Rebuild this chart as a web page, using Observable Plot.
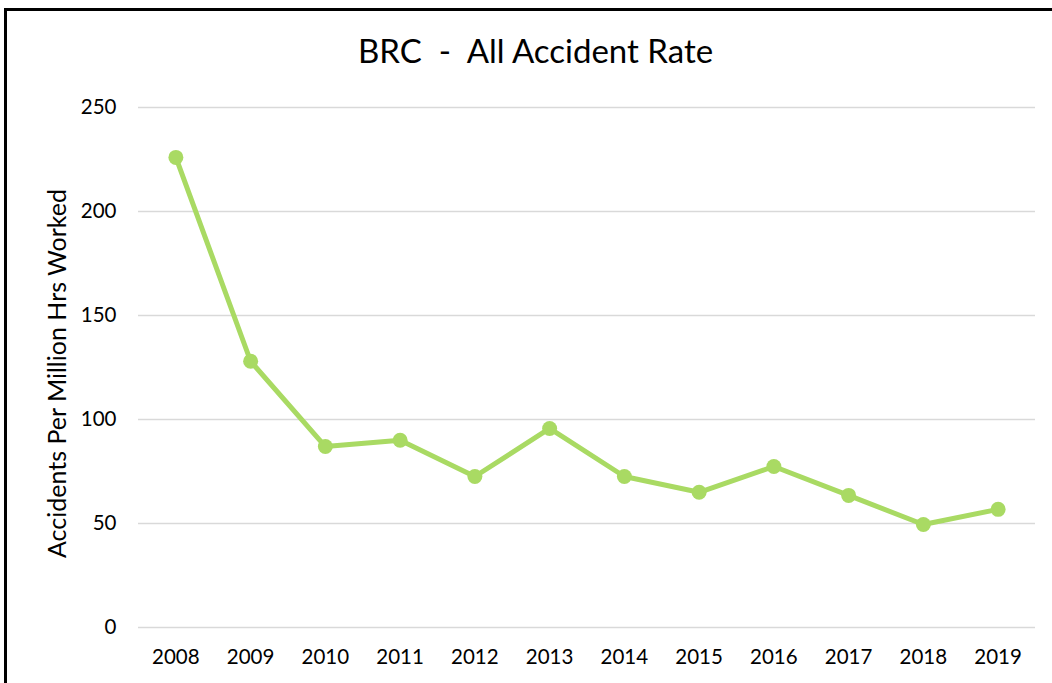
<!DOCTYPE html>
<html>
<head>
<meta charset="utf-8">
<script src="https://cdn.jsdelivr.net/npm/d3@7"></script>
<script src="https://cdn.jsdelivr.net/npm/@observablehq/plot@0.6"></script>
<style>
  html, body { margin: 0; padding: 0; background: #fff; overflow: hidden; }
  #wrap { position: relative; width: 1052px; height: 683px; overflow: hidden; font-family: Lato, "Open Sans", sans-serif; color: #000; }
  #border { position: absolute; left: 4px; top: 8px; width: 1200px; height: 800px; border: 3px solid #000; box-sizing: border-box; }
  #title { position: absolute; left: 0; top: 30px; width: 1071px; text-align: center; font-size: 33px; white-space: pre; }
  #chart { position: absolute; left: 0; top: 0; }
</style>
</head>
<body>
<div id="wrap">
  <div id="border"></div>
  <div id="chart"></div>
  <div id="title">BRC  -  All Accident Rate</div>
</div>
<script>
const years = ["2008","2009","2010","2011","2012","2013","2014","2015","2016","2017","2018","2019"];
const rates = [226, 128, 87, 90, 72.6, 95.7, 72.6, 65, 77.4, 63.5, 49.5, 56.8];
const yTicks = [0, 50, 100, 150, 200, 250];
const yLabel = "Accidents Per Million Hrs Worked";

const data = years.map((y, i) => ({year: y, rate: rates[i]}));

const chart = Plot.plot({
  width: 1052,
  height: 683,
  marginLeft: 138,
  marginRight: 17,
  marginTop: 107,
  marginBottom: 56,
  style: {fontFamily: "Lato, 'Open Sans', sans-serif", fontSize: "20.5px", color: "#000", background: "transparent", overflow: "visible"},
  x: {type: "point", domain: years, padding: 0.5, round: false, label: null, tickSize: 0, tickPadding: 22},
  y: {domain: [0, 250], ticks: yTicks, label: null, tickSize: 0, tickPadding: 22},
  marks: [
    Plot.ruleY(yTicks, {stroke: "#d9d9d9", strokeWidth: 1.5}),
    Plot.line(data, {x: "year", y: "rate", stroke: "#a9da63", strokeWidth: 5, strokeLinejoin: "round"}),
    Plot.dot(data, {x: "year", y: "rate", r: 7.5, fill: "#a9da63"}),
    Plot.text([yLabel], {frameAnchor: "left", textAnchor: "middle", dx: -81, dy: 6, rotate: -90, text: d => d, fontSize: 25, fill: "#000"})
  ]
});
document.getElementById("chart").appendChild(chart);
</script>
</body>
</html>
